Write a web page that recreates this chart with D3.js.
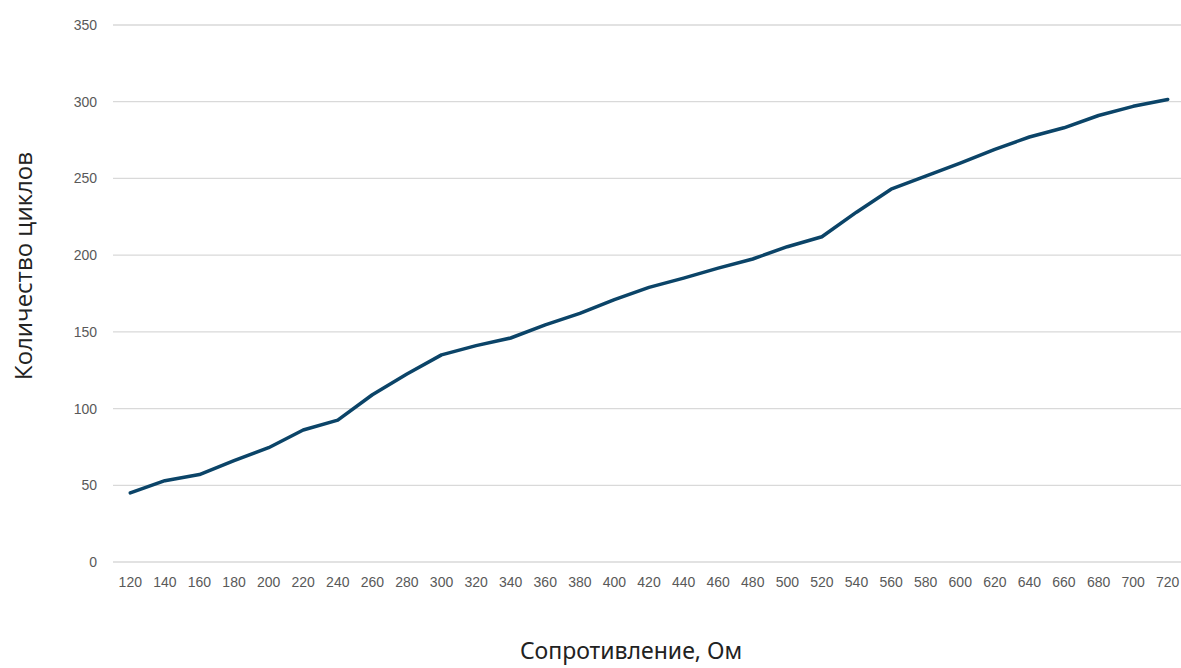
<!DOCTYPE html>
<html><head><meta charset="utf-8">
<script src="https://cdn.jsdelivr.net/npm/d3@7"></script>
<style>body{margin:0;background:#fff;}svg{display:block;}</style>
</head><body>
<svg id="chart" width="1181" height="668"></svg>
<script>
const categories = [120,140,160,180,200,220,240,260,280,300,320,340,360,380,400,420,440,460,480,500,520,540,560,580,600,620,640,660,680,700,720];
const cycles = [45,53,57,66,74.5,86,92.5,109,122.5,135,141,146,154.5,162,171,179,185,191.5,197.5,205.5,212,228,243,251.5,260,269,277,283,291,297,301.5];
const yTicks = [0,50,100,150,200,250,300,350];
const xTitle = "Сопротивление, Ом";
const yTitle = "Количество циклов";

(function(){
const svg = d3.select("#chart");
const mLeft = 113, mRight = 1185, mTop = 25, mBottom = 562;
const x = d3.scaleBand().domain(categories).range([mLeft, mRight]);
const y = d3.scaleLinear().domain([0,350]).range([mBottom, mTop]);

// grid
svg.append("g").selectAll("line").data(yTicks).join("line")
  .attr("x1", mLeft).attr("x2", mRight)
  .attr("y1", d => y(d)).attr("y2", d => y(d))
  .attr("stroke", "#d9d9d9").attr("stroke-width", 1.3);

// y axis labels
const yAxis = svg.append("g").attr("transform", `translate(${mLeft},0)`)
  .call(d3.axisLeft(y).tickValues(yTicks).tickSize(0).tickPadding(16));
yAxis.select(".domain").remove();
yAxis.selectAll("text").attr("font-family", "Liberation Sans, Arial, sans-serif")
  .attr("font-size", 14).attr("fill", "#595959");

// x axis labels
const xAxis = svg.append("g").attr("transform", `translate(0,${mBottom})`)
  .call(d3.axisBottom(x).tickSize(0).tickPadding(15));
xAxis.select(".domain").remove();
xAxis.selectAll("text").attr("font-family", "Liberation Sans, Arial, sans-serif")
  .attr("font-size", 14).attr("fill", "#595959");

// line
const line = d3.line().x((d,i) => x(categories[i]) + x.bandwidth()/2).y(d => y(d));
svg.append("path").datum(cycles)
  .attr("d", line).attr("fill", "none")
  .attr("stroke", "#0b4468").attr("stroke-width", 3.5)
  .attr("stroke-linejoin", "round").attr("stroke-linecap", "round");

// titles
svg.append("text").attr("x", 631).attr("y", 659).attr("text-anchor", "middle")
  .attr("font-family", "Noto Sans, sans-serif").attr("font-size", 23).attr("fill", "#222")
  .text(xTitle);
svg.append("text").attr("transform", "translate(32,266) rotate(-90)").attr("text-anchor", "middle")
  .attr("font-family", "Open Sans, sans-serif").attr("font-size", 24).attr("fill", "#222")
  .text(yTitle);
})();
</script>
</body></html>
